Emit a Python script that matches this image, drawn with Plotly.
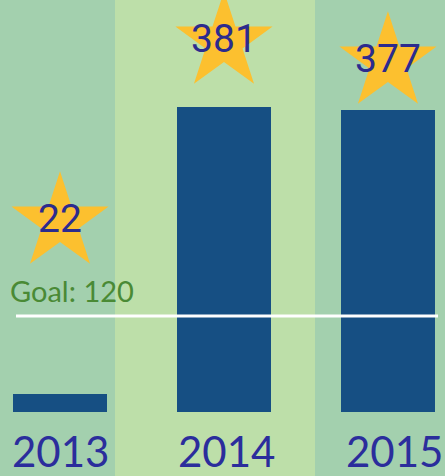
import plotly.graph_objects as go

# ---- data ----
years = ["2013", "2014", "2015"]
values = [22, 381, 377]
goal = 120
goal_label = "Goal: 120"

# ---- layout constants ----
W, H = 445, 476
base_px = 412          # pixel row of the bars' baseline
px_per_unit = 0.8
y_min = -(H - base_px) / px_per_unit
y_max = base_px / px_per_unit
x_pos = list(range(len(years)))
x_range = [-0.366, 2.348]

# star label lift above each bar (data units, style only)
star_lift = [215, 81, 60]
star_y = [v + l for v, l in zip(values, star_lift)]
year_xshift = [0, 3, 7]

BAND_DARK = "#a3d0ae"
BAND_LIGHT = "#bddfa9"
BAR = "#164f83"
STAR = "#fcc02f"
NUM = "#2c2b8e"
YEAR = "#2b2d9c"
GOAL_TXT = "#4a8a35"

fig = go.Figure()
fig.add_trace(go.Bar(
    x=x_pos, y=values, width=0.575,
    marker=dict(color=BAR, line_width=0),
    hoverinfo="skip",
))
fig.add_trace(go.Scatter(
    x=x_pos, y=star_y, mode="markers+text",
    text=[str(v) for v in values],
    textposition="middle center",
    marker=dict(symbol="star", size=73, color=STAR, line=dict(width=0)),
    textfont=dict(size=39, color=NUM, family="Roboto"),
    hoverinfo="skip", cliponaxis=False,
))

shapes = [
    dict(type="rect", xref="paper", yref="paper", x0=0, x1=115 / W, y0=0, y1=1,
         fillcolor=BAND_DARK, line_width=0, layer="below"),
    dict(type="rect", xref="paper", yref="paper", x0=115 / W, x1=315 / W, y0=0, y1=1,
         fillcolor=BAND_LIGHT, line_width=0, layer="below"),
    dict(type="rect", xref="paper", yref="paper", x0=315 / W, x1=1, y0=0, y1=1,
         fillcolor=BAND_DARK, line_width=0, layer="below"),
    dict(type="line", xref="paper", yref="y", x0=16 / W, x1=438 / W, y0=goal, y1=goal,
         line=dict(color="white", width=3), layer="above"),
]

annotations = [
    dict(xref="paper", yref="y", x=8 / W, y=goal, xanchor="left", yanchor="bottom",
         yshift=6, text=goal_label, showarrow=False,
         font=dict(size=29, color=GOAL_TXT, family="Lato")),
]
for i, yr in enumerate(years):
    annotations.append(dict(
        xref="x", yref="paper", x=i, y=0, xanchor="center", yanchor="bottom",
        yshift=-2, xshift=year_xshift[i], text=yr, showarrow=False,
        font=dict(size=42, color=YEAR, family="Lato"),
    ))

fig.update_layout(
    width=W, height=H,
    margin=dict(l=0, r=0, t=0, b=0),
    paper_bgcolor=BAND_DARK, plot_bgcolor="rgba(0,0,0,0)",
    showlegend=False,
    xaxis=dict(range=x_range, visible=False, fixedrange=True),
    yaxis=dict(range=[y_min, y_max], visible=False, fixedrange=True),
    shapes=shapes, annotations=annotations,
    bargap=0,
)

fig.write_html(
    "out.html",
    config={"displayModeBar": False},
    post_script="document.body.style.margin='0';document.body.style.padding='0';",
)
